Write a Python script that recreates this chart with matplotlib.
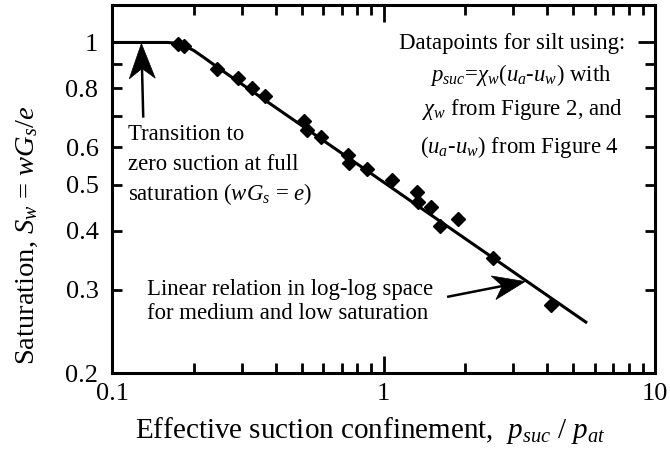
import numpy as np
import matplotlib
matplotlib.use("Agg")
import matplotlib.pyplot as plt
from matplotlib.patches import Polygon
from matplotlib.lines import Line2D
from matplotlib.transforms import IdentityTransform
from matplotlib.ticker import FixedLocator, FixedFormatter

plt.rcParams["font.family"] = ["Liberation Serif", "DejaVu Serif"]
plt.rcParams["mathtext.fontset"] = "custom"
plt.rcParams["mathtext.rm"] = "Liberation Serif"
plt.rcParams["mathtext.it"] = "Liberation Serif:italic"
plt.rcParams["mathtext.bf"] = "Liberation Serif:bold"

# Silt datapoints: effective suction confinement vs. saturation
psuc_ratio = [0.175, 0.184, 0.243, 0.291, 0.327, 0.365, 0.509, 0.522, 0.588, 0.739,
              0.745, 0.868, 1.073, 1.327, 1.339, 1.495, 1.613, 1.879, 2.529, 4.137]
saturation = [0.994, 0.984, 0.880, 0.842, 0.802, 0.772, 0.683, 0.654, 0.632, 0.579,
              0.557, 0.541, 0.513, 0.484, 0.461, 0.450, 0.410, 0.424, 0.351, 0.279]

# Fitted relation: flat at full saturation, then linear in log-log space
fit_x = [0.10, 0.16, 0.17, 0.18, 0.19, 0.20, 0.215, 0.243, 5.62]
fit_y = [1.000, 1.000, 0.997, 0.989, 0.976, 0.961, 0.934, 0.888, 0.2555]

x_major = [0.1, 1, 10]
x_major_labels = ["0.1", "1", "10"]
y_major = [1]
y_major_labels = ["1"]
y_minor = [0.2, 0.3, 0.4, 0.5, 0.6, 0.7, 0.8, 0.9]
y_minor_labels = ["0.2", "0.3", "0.4", "0.5", "0.6", "", "0.8", ""]

W, H = 670, 459
fig = plt.figure(figsize=(W / 100, H / 100), dpi=100)
L, R, T, B = 112.3, 655.0, 5.0, 373.3
ax = fig.add_axes([L / W, 1 - B / H, (R - L) / W, (B - T) / H])
ax.set_xscale("log")
ax.set_yscale("log")
ax.set_xlim(0.1, 10)
ax.set_ylim(0.2, 1.2)

ax.xaxis.set_major_locator(FixedLocator(x_major))
ax.xaxis.set_major_formatter(FixedFormatter(x_major_labels))
ax.xaxis.set_minor_locator(FixedLocator([m * d for d in (0.1, 1) for m in range(2, 10)]))
ax.xaxis.set_minor_formatter(FixedFormatter([]))
ax.yaxis.set_major_locator(FixedLocator(y_major))
ax.yaxis.set_major_formatter(FixedFormatter(y_major_labels))
ax.yaxis.set_minor_locator(FixedLocator(y_minor))
ax.yaxis.set_minor_formatter(FixedFormatter(y_minor_labels))

ax.tick_params(which="both", direction="in", top=True, right=True, width=2,
               labelsize=19, colors="black")
ax.tick_params(which="major", length=12)
ax.tick_params(which="minor", length=7)
ax.tick_params(axis="y", which="both", pad=10)
ax.tick_params(axis="x", which="both", pad=7)
for s in ax.spines.values():
    s.set_linewidth(2.2)

ax.plot(fit_x, fit_y, color="black", lw=2.2, solid_capstyle="butt", zorder=2)
ax.plot(psuc_ratio, saturation, linestyle="none", marker="D", ms=7.5,
        color="black", zorder=3)


def ftext(px, py, s, **kw):
    kw.setdefault("fontsize", 16.4)
    kw.setdefault("va", "baseline")
    fig.text(px / W, 1 - py / H, s, **kw)


def stealth_arrow(tip, tail, length, width, notch, lw=1.8):
    tr = ax.transData
    tp = np.array(tr.transform(tip))
    tl = np.array(tr.transform(tail))
    d = tp - tl
    d /= np.hypot(*d)
    n = np.array([-d[1], d[0]])
    back = tp - d * length
    pn = tp - d * (length - notch)
    head = Polygon([tp, back + n * width / 2, pn, back - n * width / 2], closed=True,
                   transform=IdentityTransform(), facecolor="black",
                   edgecolor="black", lw=0.5, zorder=5)
    fig.add_artist(head)
    fig.add_artist(Line2D([tl[0], pn[0]], [tl[1], pn[1]], color="black", lw=lw,
                          transform=IdentityTransform(), zorder=5))


# Annotations
stealth_arrow((0.128, 0.995), (0.130, 0.698), length=35, width=26, notch=10)
ftext(128.5, 139.5, "Transition to")
ftext(128.5, 170, "zero suction at full")
ftext(128.5, 200.5, r"saturation ($wG_s$ = $e$)")

stealth_arrow((3.318, 0.3125), (1.731, 0.2904), length=32, width=24, notch=9)
ftext(147, 295, "Linear relation in log-log space")
ftext(147, 319, "for medium and low saturation")

ftext(512, 49.5, "Datapoints for silt using:", ha="center")
ftext(520.5, 80.5, r"$p_{suc}$=$\chi_w$($u_a$-$u_w$) with", ha="center")
ftext(523, 115, r"$\chi_w$ from Figure 2, and", ha="center")
ftext(519.5, 153, r"($u_a$-$u_w$) from Figure 4", ha="center")

# Axis titles
ftext(135, 438, r"Effective suction confinement,  $p_{suc}$ / $p_{at}$", fontsize=21)
fig.text(27 / W, 1 - 235 / H, r"Saturation, $S_w$ = $wG_s/e$", rotation=90,
         ha="center", va="center", fontsize=20.5)

fig.savefig("out.png", dpi=100)
